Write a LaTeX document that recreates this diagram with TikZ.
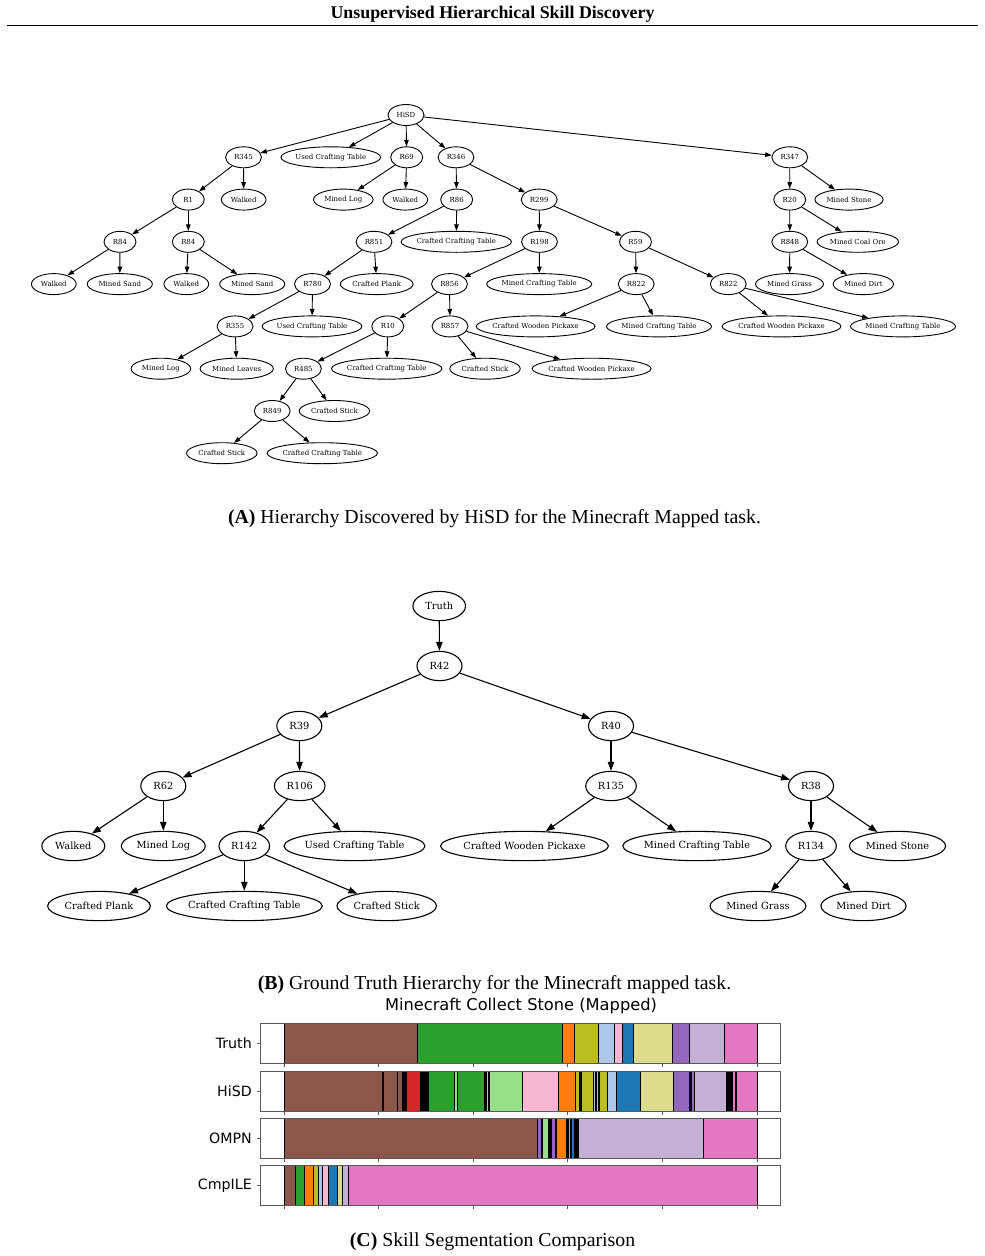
\documentclass[tikz,border=0pt]{standalone}
\usepackage{fontspec}
\setmainfont{Liberation Serif}
\newfontfamily\dvserif{DejaVu Serif}
\newfontfamily\dvsans{DejaVu Sans}
\usetikzlibrary{shapes.geometric,arrows.meta}
\newlength\mylen
\definecolor{cbrown}{HTML}{8C564B}
\definecolor{cgreen}{HTML}{2CA02C}
\definecolor{corange}{HTML}{FF7F0E}
\definecolor{colive}{HTML}{BCBD22}
\definecolor{clblue}{HTML}{AEC7E8}
\definecolor{clpink}{HTML}{F7B6D2}
\definecolor{cblue}{HTML}{1F77B4}
\definecolor{ckhaki}{HTML}{DBDB8D}
\definecolor{cpurple}{HTML}{9467BD}
\definecolor{clav}{HTML}{C5B0D5}
\definecolor{cpink}{HTML}{E377C2}
\definecolor{cred}{HTML}{D62728}
\definecolor{clgreen}{HTML}{98DF8A}
\newcommand\fA{\dvserif\fontsize{\fsA}{\fsA}\selectfont}
\newcommand\fB{\dvserif\fontsize{\fsB}{\fsB}\selectfont}
\newcommand\fCap{\fontsize{\fsC}{\fsC}\selectfont}
\newcommand\fHdr{\fontsize{\fsH}{\fsH}\selectfont\bfseries}
\newcommand\fTtl{\dvsans\fontsize{\fsT}{\fsT}\selectfont}
\newcommand\fLbl{\dvsans\fontsize{\fsL}{\fsL}\selectfont}
\newcommand\measure[1]{\pgfinterruptpicture\settowidth\mylen{#1}\global\mylen=\mylen\endpgfinterruptpicture}
\newcommand\nA[4]{%
  \measure{\fA #4}%
  \pgfmathsetmacro\ew{max(32,1.223*\mylen+13.3)}%
  \node[gvA, minimum width=\ew pt] (#1) at (#2,#3) {\makebox[0pt]{#4}};}
\newcommand\nB[4]{%
  \measure{\fB #4}%
  \pgfmathsetmacro\ew{max(45,1.223*\mylen+18.6)}%
  \node[gvB, minimum width=\ew pt] (#1) at (#2,#3) {\makebox[0pt]{#4}};}
\newcommand\panel[4]{% #1 name, #2 top y, #3 label, #4 segments
  \foreach \a/\b/\c in {#4} {\draw[seg, fill=\c] (\a,#2) rectangle (\b,#2+40.5);}
  \draw[frame] (260,#2) rectangle (780,#2+40.5);
  \foreach \t in {284,378.6,473.2,567.8,662.4,757} {\draw[frame] (\t,#2+40.5) -- ++(0,3.5);}
  \draw[frame] (260,#2+20.25) -- ++(-3.5,0);
  \node[anchor=east, font=\fLbl, inner sep=0pt] (#1) at (252,#2+20.25) {#3};}
\begin{document}
\settowidth\mylen{\dvserif\fontsize{10}{12}\selectfont Used Crafting Table}%
\pgfmathsetmacro\fsA{10*70.7/\mylen}%
\pgfmathsetmacro\fsB{10*100/\mylen}%
\settowidth\mylen{\fontsize{10}{12}\selectfont\textbf{(A)} Hierarchy Discovered by HiSD for the Minecraft Mapped task.}%
\pgfmathsetmacro\fsC{10*533/\mylen}%
\settowidth\mylen{\fontsize{10}{12}\selectfont\bfseries Unsupervised Hierarchical Skill Discovery}%
\pgfmathsetmacro\fsH{10*324/\mylen}%
\settowidth\mylen{\dvsans\fontsize{10}{12}\selectfont Minecraft Collect Stone (Mapped)}%
\pgfmathsetmacro\fsT{10*272/\mylen}%
\settowidth\mylen{\dvsans\fontsize{10}{12}\selectfont Truth}%
\pgfmathsetmacro\fsL{10*36/\mylen}%
\begin{tikzpicture}[x=1pt,y=-1pt,
  gvA/.style={ellipse, draw, line width=0.9pt, inner sep=0pt, minimum height=21pt, font=\fA},
  gvB/.style={ellipse, draw, line width=1.1pt, inner sep=0pt, minimum height=29.3pt, font=\fB},
  eA/.style={line width=0.9pt, -{Triangle[length=6.5pt,width=4.6pt]}},
  eB/.style={line width=1.1pt, -{Triangle[length=9pt,width=6.5pt]}},
  seg/.style={draw=black, line width=0.9pt},
  frame/.style={draw=black!65, line width=0.9pt}]
\useasboundingbox (0,0) rectangle (985,1256);
\fill[white] (0,0) rectangle (985,1256);
% header
\node[font=\fHdr, inner sep=0pt] (hdr) at (492.5,14.5) {Unsupervised Hierarchical Skill Discovery};
\draw[line width=1.6pt] (7,25.5) -- (978,25.5);
% ---------- Tree A ----------
\nA{a0}{406}{115}{HiSD}
\nA{a345}{243.5}{157.3}{R345}
\nA{aUCT1}{330.8}{157.3}{Used Crafting Table}
\nA{a69}{406.7}{157.3}{R69}
\nA{a346}{456}{157.3}{R346}
\nA{a347}{789.8}{157.3}{R347}
\nA{a1}{188.3}{199.6}{R1}
\nA{aW1}{243.7}{199.6}{Walked}
\nA{aML1}{343.3}{199.6}{Mined Log}
\nA{aW2}{405.3}{199.6}{Walked}
\nA{a86}{456.7}{199.6}{R86}
\nA{a299}{539.2}{199.6}{R299}
\nA{a20}{789.7}{199.6}{R20}
\nA{aMS}{849}{199.6}{Mined Stone}
\nA{a84a}{120}{241.8}{R84}
\nA{a84b}{188.3}{241.8}{R84}
\nA{a851}{374}{241.8}{R851}
\nA{aCCT1}{456.3}{241.8}{Crafted Crafting Table}
\nA{a198}{539.5}{241.8}{R198}
\nA{a59}{635.5}{241.8}{R59}
\nA{a848}{789.8}{241.8}{R848}
\nA{aMCO}{857.8}{241.8}{Mined Coal Ore}
\nA{aW3}{53.8}{284.1}{Walked}
\nA{aMSa}{119.8}{284.1}{Mined Sand}
\nA{aW4}{186.3}{284.1}{Walked}
\nA{aMSb}{252.2}{284.1}{Mined Sand}
\nA{a780}{312.5}{284.1}{R780}
\nA{aCP}{376.7}{284.1}{Crafted Plank}
\nA{a856}{449.5}{284.1}{R856}
\nA{aMCT1}{539.2}{284.1}{Mined Crafting Table}
\nA{a822a}{636.2}{284.1}{R822}
\nA{a822b}{728.3}{284.1}{R822}
\nA{aMG}{789.5}{284.1}{Mined Grass}
\nA{aMD}{863.3}{284.1}{Mined Dirt}
\nA{a355}{235}{326.4}{R355}
\nA{aUCT2}{312}{326.4}{Used Crafting Table}
\nA{a10}{387.8}{326.4}{R10}
\nA{a857}{450}{326.4}{R857}
\nA{aCWP1}{535.6}{326.4}{Crafted Wooden Pickaxe}
\nA{aMCT2}{659}{326.4}{Mined Crafting Table}
\nA{aCWP2}{781.5}{326.4}{Crafted Wooden Pickaxe}
\nA{aMCT3}{903}{326.4}{Mined Crafting Table}
\nA{aML2}{160.9}{368.7}{Mined Log}
\nA{aMLv}{236.7}{368.7}{Mined Leaves}
\nA{a485}{303.4}{368.7}{R485}
\nA{aCCT2}{386.7}{368.7}{Crafted Crafting Table}
\nA{aCS1}{485}{368.7}{Crafted Stick}
\nA{aCWP3}{591.6}{368.7}{Crafted Wooden Pickaxe}
\nA{a849}{272.2}{411}{R849}
\nA{aCS2}{334.4}{411}{Crafted Stick}
\nA{aCS3}{221.8}{453.2}{Crafted Stick}
\nA{aCCT3}{322.3}{453.2}{Crafted Crafting Table}
\foreach \p/\q in {a0/a345,a0/aUCT1,a0/a69,a0/a346,a0/a347,
  a345/a1,a345/aW1,a69/aML1,a69/aW2,a346/a86,a346/a299,a347/a20,a347/aMS,
  a1/a84a,a1/a84b,a86/a851,a86/aCCT1,a299/a198,a299/a59,a20/a848,a20/aMCO,
  a84a/aW3,a84a/aMSa,a84b/aW4,a84b/aMSb,a851/a780,a851/aCP,a198/a856,a198/aMCT1,
  a59/a822a,a59/a822b,a848/aMG,a848/aMD,
  a780/a355,a780/aUCT2,a856/a10,a856/a857,a822a/aCWP1,a822a/aMCT2,a822b/aCWP2,a822b/aMCT3,
  a355/aML2,a355/aMLv,a10/a485,a10/aCCT2,a857/aCS1,a857/aCWP3,
  a485/a849,a485/aCS2,a849/aCS3,a849/aCCT3}
  {\draw[eA] (\p) -- (\q);}
\node[font=\fCap, inner sep=0pt] (capA) at (494.5,519) {\textbf{(A)} Hierarchy Discovered by HiSD for the Minecraft Mapped task.};
% ---------- Tree B ----------
\nB{b0}{439.2}{606}{Truth}
\nB{b42}{439.5}{666}{R42}
\nB{b39}{299.3}{726}{R39}
\nB{b40}{611}{726}{R40}
\nB{b62}{163.3}{786}{R62}
\nB{b106}{299.7}{786}{R106}
\nB{b135}{611}{786}{R135}
\nB{b38}{811}{786}{R38}
\nB{bW}{73.3}{846}{Walked}
\nB{bML}{163.3}{846}{Mined Log}
\nB{b142}{244.3}{846}{R142}
\nB{bUCT}{354.5}{846}{Used Crafting Table}
\nB{bCWP}{524.5}{846}{Crafted Wooden Pickaxe}
\nB{bMCT}{697}{846}{Mined Crafting Table}
\nB{b134}{811}{846}{R134}
\nB{bMS}{897.5}{846}{Mined Stone}
\nB{bCP}{99}{906}{Crafted Plank}
\nB{bCCT}{244.3}{906}{Crafted Crafting Table}
\nB{bCS}{386.7}{906}{Crafted Stick}
\nB{bMG}{758}{906}{Mined Grass}
\nB{bMD}{863.5}{906}{Mined Dirt}
\foreach \p/\q in {b0/b42,b42/b39,b42/b40,b39/b62,b39/b106,b40/b135,b40/b38,
  b62/bW,b62/bML,b106/b142,b106/bUCT,b135/bCWP,b135/bMCT,b38/b134,b38/bMS,
  b142/bCP,b142/bCCT,b142/bCS,b134/bMG,b134/bMD}
  {\draw[eB] (\p) -- (\q);}
\node[font=\fCap, inner sep=0pt] (capB) at (494.5,985) {\textbf{(B)} Ground Truth Hierarchy for the Minecraft mapped task.};
% ---------- Panel C ----------
\node[font=\fTtl, inner sep=0pt] (ttl) at (521,1006.5) {Minecraft Collect Stone (Mapped)};
\panel{lTruth}{1023.3}{Truth}{284/417.7/cbrown, 417.7/562/cgreen, 562/574.3/corange, 574.3/598.7/colive,
  598.7/614.3/clblue, 614.3/622.3/clpink, 622.3/633.3/cblue, 633.3/672.7/ckhaki,
  672.7/689.7/cpurple, 689.7/724.3/clav, 724.3/757/cpink}
\panel{lHiSD}{1071}{HiSD}{284/382/cbrown, 382/383.5/black, 383.5/397.5/cbrown, 397.5/402/cbrown,
  402/406.5/black, 406.5/420/cred, 420/428/black, 428/454.5/cgreen, 454.5/457/clgreen,
  457/484.5/cgreen, 484.5/486.5/black, 486.5/488/clgreen, 488/489.5/black, 489.5/522.7/clgreen,
  522.7/558.3/clpink, 558.3/575.3/corange, 575.3/579.7/colive, 579.7/581.7/black,
  581.7/593/colive, 593/595/clblue, 595/596.5/black, 596.5/598/clblue, 598/599.5/black,
  599.5/607/colive, 607/616/clblue, 616/640.3/cblue, 640.3/673/ckhaki, 673/689.5/cpurple,
  689.5/691/black, 691/694.3/cpurple, 694.3/726/clav, 726/728/black, 728/729.5/clav,
  729.5/732/black, 732/735/cpink, 735/736.7/black, 736.7/757/cpink}
\panel{lOMPN}{1118.3}{OMPN}{284/537.5/cbrown, 537.5/541/cpurple, 541/542.5/black, 542.5/548/clgreen,
  548/551/black, 551/555.5/cpurple, 555.5/556.7/black, 556.7/566/corange, 566/568/black,
  568/570/colive, 570/571/black, 571/574/cblue, 574/575.5/black, 575.5/578.3/black,
  578.3/703.7/clav, 703.7/757/cpink}
\panel{lCmp}{1165.3}{CmpILE}{284/295.7/cbrown, 295.7/304.3/cgreen, 304.3/313.7/corange,
  313.7/318/colive, 318/322.3/clblue, 322.3/328.7/clpink, 328.7/337.3/cblue,
  337.3/342/ckhaki, 342/348.7/clav, 348.7/757/cpink}
\node[font=\fCap, inner sep=0pt] (capC) at (492.5,1242) {\textbf{(C)} Skill Segmentation Comparison};
\end{tikzpicture}
\end{document}
